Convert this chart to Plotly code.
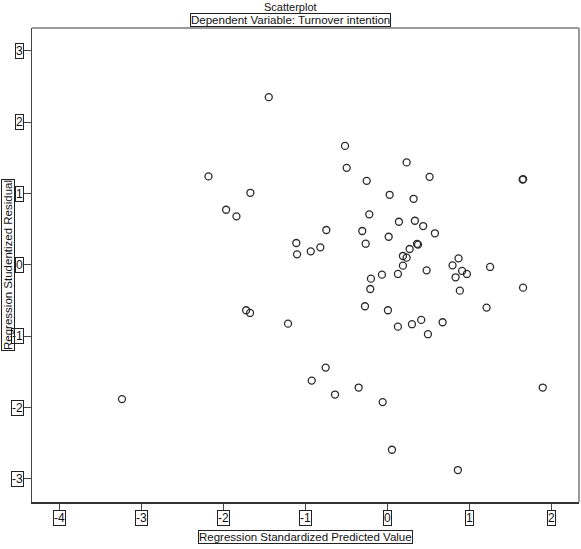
import plotly.graph_objects as go

# Data: regression standardized predicted value vs studentized residual
x_pred = [-1.446, -2.181, -1.670, -1.966, -1.840, -1.110, -1.101, -1.722, -1.674, -1.211,
          -3.236, -0.922, -0.752, -0.638, -0.350, -0.057, 0.056, 0.860, 1.895, -0.516,
          -0.496, 0.235, 0.515, -0.252, 1.650, 1.656, 0.028, 0.320, -0.220, 0.141,
          0.336, 0.437, 0.580, -0.744, -0.306, -0.264, 0.016, 0.362, 0.374, -0.934,
          -0.817, 0.272, 0.235, 0.190, 0.190, 0.129, -0.066, -0.200, -0.208, 0.479,
          0.868, 0.795, 0.912, 0.970, 0.832, 0.884, 1.253, 1.655, -0.273, 0.007,
          1.210, 0.129, 0.300, 0.413, 0.674, 0.495]
y_resid = [2.352, 1.241, 1.011, 0.773, 0.681, 0.307, 0.148, -0.636, -0.674, -0.824,
           -1.882, -1.622, -1.440, -1.818, -1.720, -1.924, -2.592, -2.877, -1.720, 1.669,
           1.361, 1.437, 1.235, 1.179, 1.197, 1.203, 0.983, 0.927, 0.709, 0.605,
           0.619, 0.545, 0.443, 0.489, 0.475, 0.297, 0.395, 0.294, 0.285, 0.190,
           0.246, 0.223, 0.101, 0.125, -0.011, -0.127, -0.137, -0.193, -0.338, -0.076,
           0.092, -0.006, -0.085, -0.127, -0.174, -0.361, -0.029, -0.319, -0.580, -0.636,
           -0.599, -0.866, -0.832, -0.772, -0.804, -0.972]

x_ticks = [-4, -3, -2, -1, 0, 1, 2]
y_ticks = [-3, -2, -1, 0, 1, 2, 3]
x_tick_labels = ["-4", "-3", "-2", "-1", "0", "1", "2"]
y_tick_labels = ["-3", "-2", "-1", "0", "1", "2", "3"]

title_text = "Scatterplot"
subtitle_text = "Dependent Variable: Turnover intention"
x_title = "Regression Standardized Predicted Value"
y_title = "Regression Studentized Residual"

FONT = "Liberation Sans, Arial, sans-serif"
W, H = 581, 549
ML, MR, MT, MB = 32, 2, 28, 47

fig = go.Figure()
fig.add_trace(go.Scatter(
    x=x_pred, y=y_resid, mode="markers",
    marker=dict(symbol="circle-open", size=7, color="#2a2a2a", line=dict(width=1.3, color="#2a2a2a")),
    showlegend=False, hoverinfo="x+y"))

annotations = []
for v, t in zip(x_ticks, x_tick_labels):
    annotations.append(dict(x=v, y=0, xref="x", yref="paper", text=t, showarrow=False,
                            xanchor="center", yanchor="top", yshift=-8,
                            font=dict(family=FONT, size=12, color="#111"),
                            bordercolor="#222", borderwidth=1, borderpad=0, bgcolor="white"))
for v, t in zip(y_ticks, y_tick_labels):
    annotations.append(dict(x=0, y=v, xref="paper", yref="y", text=t, showarrow=False,
                            xanchor="right", yanchor="middle", xshift=-8,
                            font=dict(family=FONT, size=12, color="#111"),
                            bordercolor="#222", borderwidth=1, borderpad=0, bgcolor="white"))
annotations.append(dict(x=0.5, y=0, xref="paper", yref="paper", text=x_title, showarrow=False,
                        xanchor="center", yanchor="top", yshift=-28,
                        font=dict(family=FONT, size=11.5, color="#111"),
                        bordercolor="#222", borderwidth=1, borderpad=0))
annotations.append(dict(x=0, y=0.5, xref="paper", yref="paper", text=y_title, showarrow=False,
                        xanchor="right", yanchor="middle", xshift=-17, textangle=-90,
                        font=dict(family=FONT, size=11.5, color="#111"),
                        bordercolor="#222", borderwidth=1, borderpad=0))
annotations.append(dict(x=0.5, y=1, xref="paper", yref="paper", text=subtitle_text, showarrow=False,
                        xanchor="center", yanchor="bottom", yshift=1,
                        font=dict(family=FONT, size=11.5, color="#111"),
                        bordercolor="#222", borderwidth=1, borderpad=0))
annotations.append(dict(x=0.5, y=1, xref="paper", yref="paper", text=title_text, showarrow=False,
                        xanchor="center", yanchor="bottom", yshift=13,
                        font=dict(family=FONT, size=11, color="#111")))

# place title annotations relative to full figure width
for a in annotations[-2:]:
    a["xref"] = "paper"
    a["x"] = 0.5 - ((ML - MR) / 2) / (W - ML - MR)

fig.update_layout(
    width=W, height=H,
    margin=dict(l=ML, r=MR, t=MT, b=MB),
    paper_bgcolor="white", plot_bgcolor="white",
    annotations=annotations,
    shapes=[
        dict(type="line", xref="paper", yref="paper", x0=0, x1=1, y0=1, y1=1,
             line=dict(color="#9a9a9a", width=2)),
        dict(type="line", xref="paper", yref="paper", x0=1, x1=1, y0=0, y1=1,
             line=dict(color="#9a9a9a", width=2)),
    ],
)
fig.update_xaxes(range=[-4.333, 2.337], tickvals=x_ticks, showticklabels=False,
                 ticks="outside", ticklen=8, tickcolor="#444", tickwidth=1,
                 showgrid=False, zeroline=False, showline=True, linecolor="#333", linewidth=1.5)
fig.update_yaxes(range=[-3.325, 3.322], tickvals=y_ticks, showticklabels=False,
                 ticks="outside", ticklen=8, tickcolor="#444", tickwidth=1,
                 showgrid=False, zeroline=False, showline=True, linecolor="#444", linewidth=1)

fig.write_html("out.html")
